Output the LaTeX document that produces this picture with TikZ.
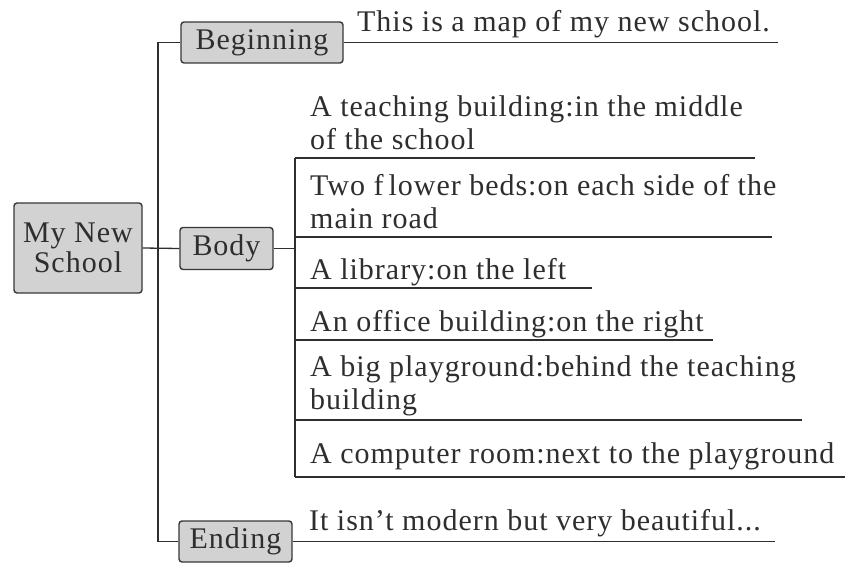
\documentclass[tikz,border=0pt]{standalone}
\usepackage{fontspec}
\setmainfont{Liberation Serif}[LetterSpace=3.3]
\definecolor{boxgray}{HTML}{D2D2D2}
\definecolor{boxborder}{HTML}{383838}
\definecolor{inkgray}{HTML}{2E2E2E}

\begin{document}
\begin{tikzpicture}[x=1pt, y=-1pt,
    part/.style={draw=boxborder, fill=boxgray, line width=1.4pt,
      rounded corners=3pt, inner sep=0pt, align=center,
      font=\fontsize{30}{30}\selectfont, text=inkgray},
    item/.style={anchor=base west, inner sep=0pt, align=left,
      font=\fontsize{30}{33}\selectfont, text=inkgray},
    branch/.style={draw=inkgray, line width=1.3pt}]
  \useasboundingbox (0,0) rectangle (867,572);

  % boxes
  \node[part, minimum width=128, minimum height=90] (school) at (78,248) {My New\\School};
  \node[part, minimum width=162, minimum height=41] (begin) at (262,42.5) {Beginning};
  \node[part, minimum width=93, minimum height=42] (body) at (226.5,248.5) {Body};
  \node[part, minimum width=113, minimum height=41] (ending) at (235.5,541.5) {Ending};

  % texts (base = last line)
  \node[item] (intro) at (357,32) {This is a map of my new school.};
  \node[item] (teach) at (310,150) {A teaching building:in the middle\\of the school};
  \node[item] (flower) at (310,229) {Two f\,lower beds:on each side of the\\main road};
  \node[item] (library) at (310,279) {A library:on the left};
  \node[item] (office) at (310,331) {An office building:on the right};
  \node[item] (play) at (310,409) {A big playground:behind the teaching\\building};
  \node[item] (computer) at (310,463) {A computer room:next to the playground};
  \node[item] (outro) at (309,530) {It isn't modern but very beautiful...};

  % trunk
  \coordinate (top) at (158,42.5);
  \coordinate (bot) at (158,541.5);
  \draw[branch] (top) -- (bot);
  \draw[branch] (top) -- (begin.west);
  \draw[branch] (bot) -- (ending.west);
  \draw[branch] (school.east) -- (body.west);

  % underlines
  \coordinate (introend) at (778,42.5);
  \coordinate (outroend) at (775,541.5);
  \draw[branch] (begin.east) -- (introend);
  \draw[branch] (ending.east) -- (outroend);
  \foreach \y/\xe [count=\i] in {158/755, 237/772, 288/592, 340/713, 420/802, 477/845} {
    \coordinate (u\i) at (295,\y);
    \draw[branch] (u\i) -- (\xe,\y);
  }
  \draw[branch] (u1) -- (u6);
  \draw[branch] (body.east) -- (body.east -| u1);
\end{tikzpicture}
\end{document}
